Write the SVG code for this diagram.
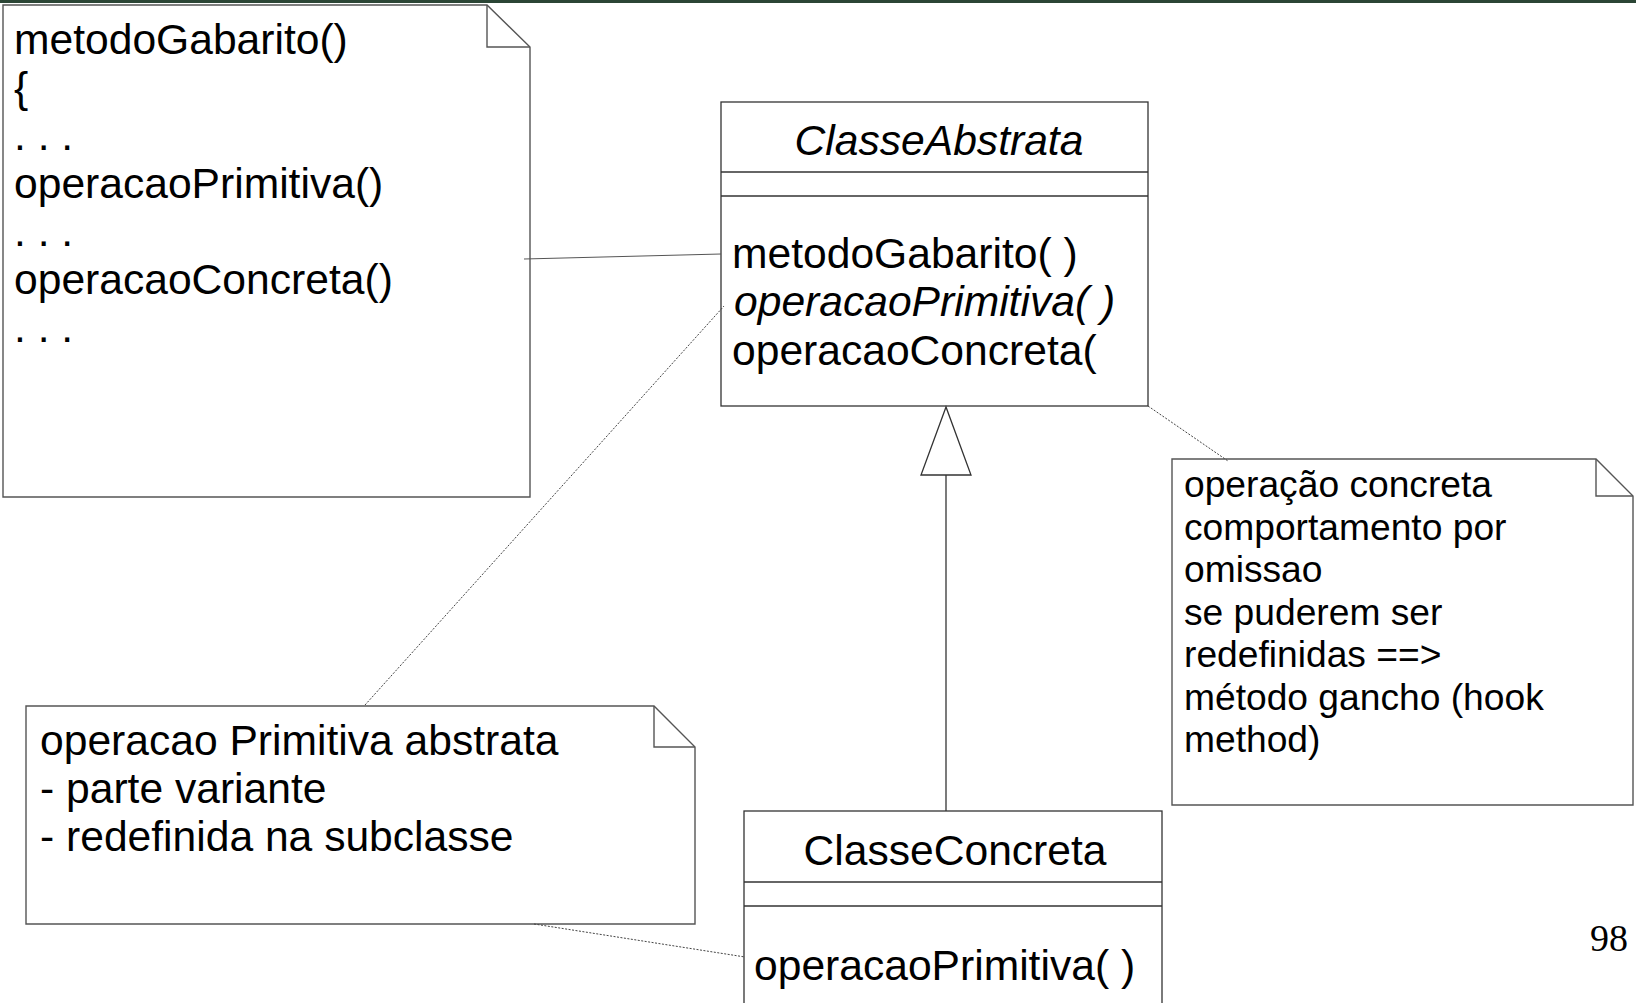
<svg xmlns="http://www.w3.org/2000/svg" width="1636" height="1003" viewBox="0 0 1636 1003">
<style>
.t{font-family:"Liberation Sans",Arial,sans-serif;fill:#000}
.s{font-family:"Liberation Serif","Times New Roman",serif;fill:#000}
.note{fill:#fff;stroke:#555;stroke-width:1.4}
.fold{fill:none;stroke:#555;stroke-width:1.4}
.box{fill:#fff;stroke:#333;stroke-width:1.3}
.sep{stroke:#333;stroke-width:1.3}
.link{stroke:#555;stroke-width:1;fill:none}
.dot{stroke:#444;stroke-width:1;stroke-dasharray:2 1.5;fill:none}
</style>
<rect x="0" y="0" width="1636" height="1003" fill="#fff"/>
<rect x="0" y="0" width="1636" height="3" fill="#2b4535"/>

<g id="note-template">
<path class="note" d="M3,5 H487 L530,47 V497 H3 Z"/>
<path class="fold" d="M487,5 V47 H530"/>
<g class="t" font-size="42.6">
<text x="14" y="54">metodoGabarito()</text>
<text x="14" y="102">{</text>
<text x="14" y="150">. . .</text>
<text x="14" y="198">operacaoPrimitiva()</text>
<text x="14" y="246">. . .</text>
<text x="14" y="294">operacaoConcreta()</text>
<text x="14" y="342">. . .</text>
</g>
</g>

<g id="classe-abstrata">
<rect class="box" x="721" y="102" width="427" height="304"/>
<line class="sep" x1="721" y1="172" x2="1148" y2="172"/>
<line class="sep" x1="721" y1="196" x2="1148" y2="196"/>
<text class="t" font-size="42.6" font-style="italic" x="939" y="155" text-anchor="middle">ClasseAbstrata</text>
<text class="t" font-size="42.6" x="732" y="268">metodoGabarito( )</text>
<text class="t" font-size="42.6" font-style="italic" x="734" y="316">operacaoPrimitiva( )</text>
<text class="t" font-size="42.6" x="732" y="365">operacaoConcreta(</text>
</g>

<g id="note-concreta">
<path class="note" d="M1172,459 H1596 L1633,496 V805 H1172 Z"/>
<path class="fold" d="M1596,459 V496 H1633"/>
<g class="t" font-size="37.2">
<text x="1184" y="497">operação concreta</text>
<text x="1184" y="540">comportamento por</text>
<text x="1184" y="582">omissao</text>
<text x="1184" y="625">se puderem ser</text>
<text x="1184" y="667">redefinidas ==&gt;</text>
<text x="1184" y="710">método gancho (hook</text>
<text x="1184" y="752">method)</text>
</g>
</g>

<g id="note-primitiva">
<path class="note" d="M26,706 H654 L695,747 V924 H26 Z"/>
<path class="fold" d="M654,706 V747 H695"/>
<g class="t" font-size="42.6">
<text x="40" y="755">operacao Primitiva abstrata</text>
<text x="40" y="803">- parte variante</text>
<text x="40" y="851">- redefinida na subclasse</text>
</g>
</g>

<g id="classe-concreta">
<rect class="box" x="744" y="811" width="418" height="210"/>
<line class="sep" x1="744" y1="882" x2="1162" y2="882"/>
<line class="sep" x1="744" y1="906" x2="1162" y2="906"/>
<text class="t" font-size="42.6" x="955" y="865" text-anchor="middle">ClasseConcreta</text>
<text class="t" font-size="42.6" x="754" y="980">operacaoPrimitiva( )</text>
</g>

<g id="connectors">
<line class="link" x1="524" y1="259" x2="721" y2="254"/>
<line class="dot" x1="365" y1="705" x2="724" y2="306"/>
<line class="dot" x1="1148" y1="406" x2="1228" y2="461"/>
<line class="dot" x1="534" y1="924" x2="745" y2="957"/>
<line class="sep" x1="946" y1="475" x2="946" y2="811"/>
<polygon points="946,407 921,475 971,475" fill="#fff" stroke="#333" stroke-width="1.3"/>
</g>

<text id="page-number" class="s" x="1628" y="951" text-anchor="end" font-size="38">98</text>
</svg>
